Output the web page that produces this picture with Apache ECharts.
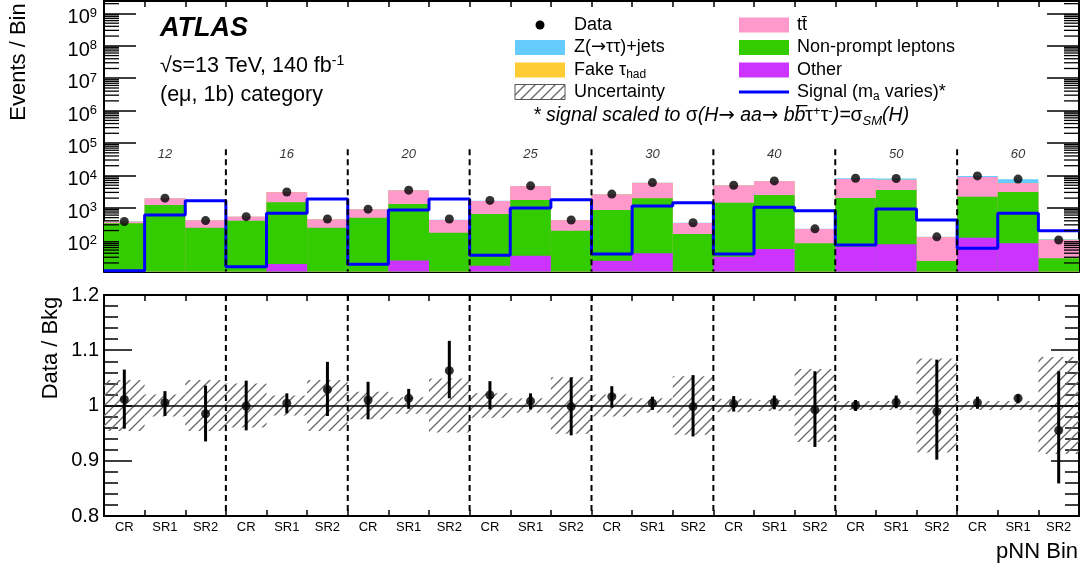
<!DOCTYPE html>
<html><head><meta charset="utf-8">
<script src="https://cdn.jsdelivr.net/npm/echarts@6/dist/echarts.min.js"></script>
<style>html,body{margin:0;padding:0;background:#fff}#c{width:1087px;height:574px}</style>
</head><body><div id="c"></div>
<script>
// ---- data ----
const groups = ['12','16','20','25','30','40','50','60'];
const regions = ['CR','SR1','SR2'];
const other     = [3,5,3,4,18.6,4,5,24,4,16.4,33.5,5,23.4,39.7,5,31.2,54,6,63.4,75.3,3,120,80.7,4];
const nonprompt = [332,1225,242,399,1470,241,494,1294,168,633,1720,193,838,1937,151,1415,2446,75,1959,3491,20,2098,3016,24];
const ttbar     = [37,720,160,127,1561,190,396,2122,253,991,2927,217,1729,3923,187,3454,4150,143,5778,3734,102,6682,2643,75];
const fakeTau   = [1,5,1,1,8,1,2,9,1,4,12,1,7,15,1,12,18,1,25,30,1,30,25,1];
const zjets     = [5,25,8,6,42,9,9,41,6,23,53,7,33,85,5,68,97,3,375,670,3,730,1875,3];
const dataYield = [380,2000,405,535,3100,455,915,3530,455,1700,4780,422,2670,6020,348,5000,6800,226,8200,8050,128,9700,7740,102];
const signal    = [11.5,604,1667,15.3,681,1883,18.2,861,1883,34.4,993,1790,37.8,1145,1446,37.8,1045,820,71.6,925,423,56.6,681,198];
const ratio     = [1.011,1.005,0.985,0.999,1.004,1.029,1.010,1.013,1.063,1.019,1.008,0.998,1.016,1.004,0.998,1.003,1.006,0.992,1.000,1.006,0.989,1.005,1.013,0.955];
const ratioHi   = [1.065,1.026,1.036,1.045,1.022,1.079,1.043,1.030,1.117,1.044,1.022,1.051,1.035,1.016,1.055,1.017,1.018,1.062,1.010,1.018,1.083,1.016,1.020,1.062];
const ratioLo   = [0.958,0.981,0.935,0.955,0.986,0.981,0.975,0.994,1.013,0.993,0.993,0.946,0.996,0.992,0.944,0.989,0.993,0.925,0.990,0.995,0.902,0.994,1.004,0.859];
const bkgUnc    = [0.046,0.020,0.046,0.040,0.018,0.046,0.025,0.015,0.049,0.022,0.013,0.051,0.020,0.013,0.053,0.012,0.010,0.066,0.008,0.008,0.085,0.008,0.008,0.088];

// ---- derived ----
const categories = [];
groups.forEach(g => regions.forEach(r => categories.push(r)));
const n = categories.length;
const FONT = 'Liberation Sans';
const yMin = 10.9, yMax = 2.415e9;

const procs = [
  {name:'Other', v:other, color:'#cc33ff'},
  {name:'Non-prompt leptons', v:nonprompt, color:'#33cc00'},
  {name:'tt̄', v:ttbar, color:'#ff99cc'},
  {name:'Fake τhad', v:fakeTau, color:'#ffcc33'},
  {name:'Z(→ττ)+jets', v:zjets, color:'#66ccff'}
];
let run = new Array(n).fill(0);
procs.forEach(p => { run = run.map((r,i) => r + p.v[i]); p.top = run.slice(); });

function hatchCanvas(){
  const s = 10;
  const c = document.createElement('canvas'); c.width = s; c.height = s;
  const g = c.getContext('2d');
  g.strokeStyle = '#666'; g.lineWidth = 1.3; g.beginPath();
  g.moveTo(0,s); g.lineTo(s,0);
  g.moveTo(-2,2); g.lineTo(2,-2);
  g.moveTo(s-2,s+2); g.lineTo(s+2,s-2);
  g.stroke();
  return c;
}
const hatch = {image: hatchCanvas(), repeat: 'repeat'};

const minorVals = [];
for (let k = 1; k <= 9; k++) for (let m = 2; m <= 9; m++) { const v = m * Math.pow(10, k); if (v > yMin && v < yMax) minorVals.push([0, v]); }
const seps = groups.slice(1).map((g, i) => [(i + 1) * regions.length, 1]);

const blk = '#000';
const tickStyle = {color: blk, width: 1.5};
const axLine = {show: true, lineStyle: {color: blk, width: 2}};

function logFmt(v){
  const e = Math.log10(v);
  if (Math.abs(e - Math.round(e)) > 1e-6) return '';
  return '{b|10}{s|' + Math.round(e) + '}';
}

const series = [];
procs.slice().reverse().forEach(p => {
  series.push({type:'bar', name:p.name, xAxisIndex:0, yAxisIndex:0, data:p.top,
    barGap:'-100%', barCategoryGap:'0%', itemStyle:{color:p.color}, clip:true, silent:true});
});
series.push({type:'line', name:'Signal', xAxisIndex:1, yAxisIndex:0, step:'end', showSymbol:false,
  data: signal.map((s,i) => [i, s]).concat([[n, signal[n-1]]]),
  lineStyle:{color:'#0000ff', width:3}, z:4});
series.push({type:'scatter', name:'Data', xAxisIndex:0, yAxisIndex:0, data:dataYield, symbolSize:9,
  itemStyle:{color:blk}, z:6});
series.push({type:'custom', xAxisIndex:1, yAxisIndex:0, data:minorVals, silent:true, z:7,
  renderItem:(params, api) => {
    const v = api.value(1); const L = api.coord([0, v]); const R = api.coord([n, v]);
    return {type:'group', children:[
      {type:'line', shape:{x1:L[0], y1:L[1], x2:L[0]+15, y2:L[1]}, style:{stroke:blk, lineWidth:1.3}},
      {type:'line', shape:{x1:R[0]-15, y1:R[1], x2:R[0], y2:R[1]}, style:{stroke:blk, lineWidth:1.3}}
    ]};
  }});
series.push({type:'custom', xAxisIndex:1, yAxisIndex:0, data:seps, silent:true, z:5,
  renderItem:(params, api) => {
    const b = api.value(0); const a = api.coord([b, 64000]); const c = api.coord([b, yMin]);
    return {type:'line', shape:{x1:a[0], y1:a[1], x2:c[0], y2:c[1]}, style:{stroke:blk, lineWidth:2, lineDash:[6,4]}};
  }});
series.push({type:'scatter', xAxisIndex:1, yAxisIndex:0, symbolSize:0, silent:true,
  data: groups.map((g,i) => [i*regions.length + regions.length/2, 45900]),
  label:{show:true, position:'inside', formatter:(p) => groups[p.dataIndex], fontFamily:FONT, fontSize:13, fontStyle:'italic', color:blk}});

series.push({type:'bar', xAxisIndex:3, yAxisIndex:2, stack:'unc', data:bkgUnc.map(u => 1 - u),
  barCategoryGap:'0%', itemStyle:{color:'rgba(0,0,0,0)'}, silent:true});
series.push({type:'bar', xAxisIndex:3, yAxisIndex:2, stack:'unc', data:bkgUnc.map(u => 2 * u),
  barCategoryGap:'0%', itemStyle:{color:hatch}, silent:true});
series.push({type:'custom', xAxisIndex:4, yAxisIndex:2, data:seps, silent:true, z:5,
  renderItem:(params, api) => {
    const b = api.value(0); const a = api.coord([b, 1.2]); const c = api.coord([b, 0.8]);
    return {type:'line', shape:{x1:a[0], y1:a[1], x2:c[0], y2:c[1]}, style:{stroke:blk, lineWidth:2, lineDash:[6,4]}};
  }});
series.push({type:'custom', xAxisIndex:3, yAxisIndex:2, silent:true, z:6,
  data: ratio.map((r,i) => [i, ratioLo[i], ratioHi[i]]),
  encode:{x:0, y:[1,2]},
  renderItem:(params, api) => {
    const a = api.coord([api.value(0), api.value(1)]); const b = api.coord([api.value(0), api.value(2)]);
    return {type:'line', shape:{x1:a[0], y1:a[1], x2:b[0], y2:b[1]}, style:{stroke:blk, lineWidth:3}};
  }});
series.push({type:'scatter', xAxisIndex:3, yAxisIndex:2, data:ratio, symbolSize:9, itemStyle:{color:blk}, z:7,
  markLine:{silent:true, symbol:'none', label:{show:false}, lineStyle:{color:blk, width:1.5, type:'solid'}, data:[{yAxis:1}]}});

const catAxis = (grid, pos, labels) => ({type:'category', gridIndex:grid, position:pos, data:categories,
  boundaryGap:true, axisLine:axLine, axisTick:{show:true, inside:true, length:6, lineStyle:tickStyle},
  axisLabel: labels ? {show:true, interval:0, fontFamily:FONT, fontSize:13, color:blk, margin:5} : {show:false},
  splitLine:{show:false}});
const valX = (grid) => ({type:'value', gridIndex:grid, min:0, max:n, show:false});
const logY = (pos, labels) => ({type:'log', gridIndex:0, position:pos, min:yMin, max:yMax, logBase:10, splitNumber:10,
  axisLine:axLine, axisTick:{show:true, inside:true, length:32, lineStyle:tickStyle},
  axisLabel: labels ? {show:true, formatter:logFmt, margin:7, showMinLabel:false, showMaxLabel:false,
    rich:{b:{fontFamily:FONT, fontSize:20, color:blk, padding:[9,0,0,0]}, s:{fontFamily:FONT, fontSize:13, color:blk}}} : {show:false},
  splitLine:{show:false}, minorTick:{show:false}});
const ratioY = (pos, labels) => ({type:'value', gridIndex:1, position:pos, min:0.8, max:1.2, interval:0.1,
  axisLine:axLine, axisTick:{show:true, inside:true, length:28, lineStyle:tickStyle},
  minorTick:{show:true, splitNumber:5, length:14, lineStyle:tickStyle},
  axisLabel: labels ? {show:true, fontFamily:FONT, fontSize:20, color:blk, margin:5} : {show:false},
  splitLine:{show:false}});

const txt = (x, y, text, size, extra) => ({type:'text', x:x, y:y, silent:true,
  style:Object.assign({text:text, fontFamily:FONT, fontSize:size, fill:blk, align:'left', verticalAlign:'middle'}, extra || {})});
const rich = (size, it) => {
  const st = it ? 'italic' : 'normal', sm = Math.round(size*0.65);
  return {
    sup:{fontFamily:FONT, fontSize:sm, fontStyle:'normal', padding:[0,0,10,0]},
    sub:{fontFamily:FONT, fontSize:sm, fontStyle:st, padding:[10,0,0,0]},
    gr:{fontFamily:FONT, fontSize:size, fontStyle:'normal'},
    ar:{fontFamily:'DejaVu Sans', fontSize:size, fontStyle:'normal'}
  };
};
const box = (x, y, color, extra) => ({type:'rect', silent:true, shape:{x:x, y:y-7.5, width:50, height:15},
  style:Object.assign({fill:color}, extra || {})});

const graphic = [
  txt(160, 29, 'ATLAS', 27, {fontWeight:'bold', fontStyle:'italic'}),
  txt(160, 66, '√s=13 TeV, 140 fb{sup|-1}', 21.5, {rich:rich(21.5)}),
  txt(160, 95, '(eμ, 1b) category', 21.5),
  {type:'circle', silent:true, shape:{cx:540, cy:25, r:4.5}, style:{fill:blk}},
  txt(574, 25, 'Data', 18),
  box(515, 47.5, '#66ccff'),
  txt(574, 47.5, 'Z({ar|→}ττ)+jets', 18, {rich:rich(18)}),
  box(515, 70, '#ffcc33'),
  txt(574, 70, 'Fake τ{sub|had}', 18, {rich:rich(18)}),
  box(515, 92, hatch, {stroke:'#555', lineWidth:1}),
  txt(574, 92, 'Uncertainty', 18),
  box(739, 25, '#ff99cc'),
  txt(797, 25, 'tt̄', 18),
  box(739, 47.5, '#33cc00'),
  txt(797, 47.5, 'Non-prompt leptons', 18),
  box(739, 70, '#cc33ff'),
  txt(797, 70, 'Other', 18),
  {type:'line', silent:true, shape:{x1:739, y1:92, x2:789, y2:92}, style:{stroke:'#0000ff', lineWidth:3}},
  txt(797, 92, 'Signal (m{sub|a} varies)*', 18, {rich:rich(18)}),
  txt(533, 116, '* signal scaled to {gr|σ}(H{ar|→} aa{ar|→} bb̅{gr|τ}{sup|+}{gr|τ}{sup|-})={gr|σ}{sub|SM}(H)', 19.5, {fontStyle:'italic', rich:rich(19.5, true)}),
  {type:'text', x:19, y:62, rotation:Math.PI/2, silent:true,
    style:{text:'Events / Bin', fontFamily:FONT, fontSize:22, fill:blk, align:'center', verticalAlign:'middle'}},
  {type:'text', x:51, y:348, rotation:Math.PI/2, silent:true,
    style:{text:'Data / Bkg', fontFamily:FONT, fontSize:22, fill:blk, align:'center', verticalAlign:'middle'}},
  txt(1078, 552, 'pNN Bin', 22, {align:'right'})
];

const option = {
  animation:false,
  backgroundColor:'#fff',
  grid:[
    {left:104, right:8, top:1, height:270.5},
    {left:104, right:8, top:295, height:221}
  ],
  xAxis:[catAxis(0,'bottom',false), valX(0), catAxis(0,'top',false), catAxis(1,'bottom',true), valX(1), catAxis(1,'top',false)],
  yAxis:[logY('left', true), logY('right', false), ratioY('left', true), ratioY('right', false)],
  series:series,
  graphic:graphic
};
const chart = echarts.init(document.getElementById('c'), null, {renderer:'canvas'});
chart.setOption(option);
</script>
</body></html>
